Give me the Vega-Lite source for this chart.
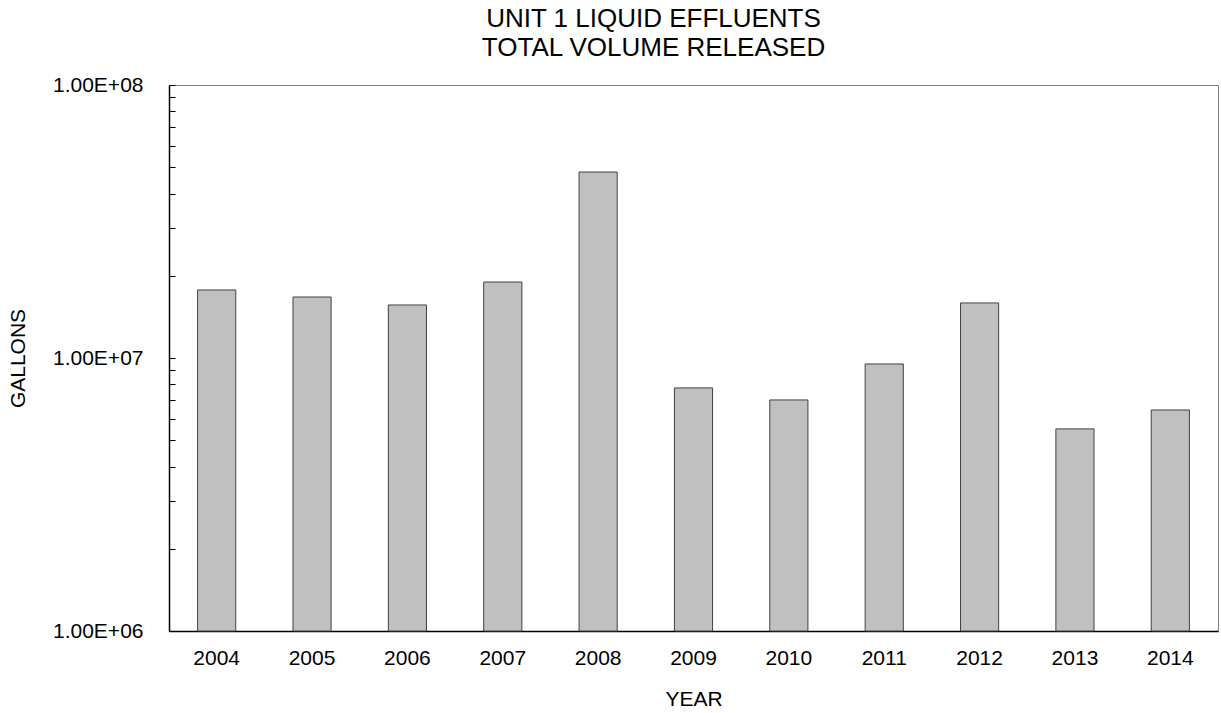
{
  "$schema": "https://vega.github.io/schema/vega-lite/v6.json",
  "autosize": "none",
  "width": 1049,
  "height": 546,
  "padding": {"left": 169, "top": 85, "right": 3, "bottom": 82},
  "background": "white",
  "title": {
    "text": ["UNIT 1 LIQUID EFFLUENTS", "TOTAL VOLUME RELEASED"],
    "font": "Liberation Sans",
    "fontSize": 26,
    "fontWeight": "normal",
    "color": "black",
    "lineHeight": 29,
    "anchor": "middle",
    "dx": -40,
    "offset": 13
  },
  "config": {
    "view": {"stroke": "#808080", "strokeWidth": 1},
    "axis": {
      "labelFont": "Liberation Sans",
      "titleFont": "Liberation Sans",
      "labelFontSize": 21,
      "titleFontSize": 21,
      "titleFontWeight": "normal",
      "labelColor": "black",
      "titleColor": "black",
      "domainColor": "black",
      "domainWidth": 1.5,
      "tickColor": "black",
      "grid": false
    }
  },
  "data": {
    "values": [
      {"year": "2004", "gallons": 17750000},
      {"year": "2005", "gallons": 16730000},
      {"year": "2006", "gallons": 15640000},
      {"year": "2007", "gallons": 18980000},
      {"year": "2008", "gallons": 48000000},
      {"year": "2009", "gallons": 7770000},
      {"year": "2010", "gallons": 7020000},
      {"year": "2011", "gallons": 9510000},
      {"year": "2012", "gallons": 15910000},
      {"year": "2013", "gallons": 5500000},
      {"year": "2014", "gallons": 6450000}
    ]
  },
  "mark": {"type": "bar", "fill": "#c0c0c0", "stroke": "#404040", "strokeWidth": 1},
  "encoding": {
    "x": {
      "field": "year",
      "type": "ordinal",
      "scale": {"paddingInner": 0.6, "paddingOuter": 0.3},
      "axis": {
        "title": "YEAR",
        "labelAngle": 0,
        "ticks": false,
        "labelPadding": 16,
        "titlePadding": 20
      }
    },
    "y": {
      "field": "gallons",
      "type": "quantitative",
      "scale": {"type": "log", "domain": [1000000, 100000000], "nice": false},
      "axis": {
        "title": "GALLONS",
        "values": [1000000, 2000000, 3000000, 4000000, 5000000, 6000000, 7000000, 8000000, 9000000, 10000000, 20000000, 30000000, 40000000, 50000000, 60000000, 70000000, 80000000, 90000000, 100000000],
        "labelExpr": "datum.value == 1000000 ? '1.00E+06' : datum.value == 10000000 ? '1.00E+07' : datum.value == 100000000 ? '1.00E+08' : ''",
        "tickSize": -6,
        "labelPadding": 32,
        "titlePadding": 24,
        "labelBaseline": "middle"
      }
    },
    "y2": {"datum": 1000000}
  }
}
